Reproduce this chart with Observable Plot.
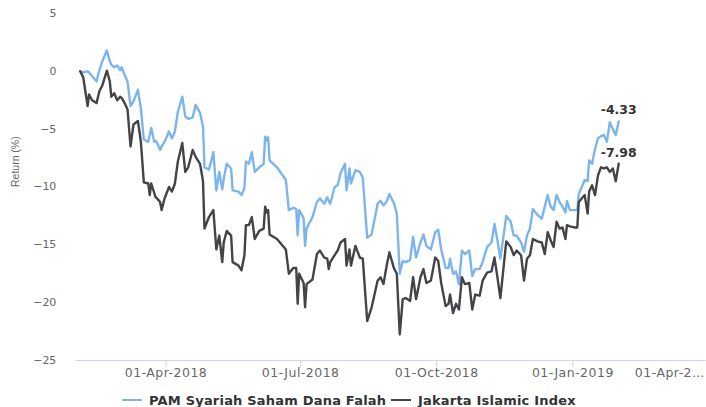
<!DOCTYPE html>
<html><head><meta charset="utf-8">
<script src="https://cdn.jsdelivr.net/npm/d3@7"></script>
<script src="https://cdn.jsdelivr.net/npm/@observablehq/plot@0.6"></script>
<style>
html,body{margin:0;padding:0;background:#fff;overflow:hidden;}
#wrap{width:706px;height:407px;overflow:hidden;position:relative;font-family:"DejaVu Sans",sans-serif;}
#chart svg{display:block;}
#legend{position:absolute;top:385px;left:0;width:706px;height:30px;font:bold 13px "DejaVu Sans",sans-serif;color:#333;letter-spacing:0.2px;}
.item{position:absolute;top:0;height:30px;display:flex;align-items:center;white-space:nowrap;}
.sw{display:inline-block;width:20px;height:2px;margin-right:7px;}
</style></head>
<body><div id="wrap"><div id="chart"></div><div id="legend"></div></div>
<script>
const dates = [
"2018-02-02","2018-02-04","2018-02-07","2018-02-08","2018-02-10","2018-02-13","2018-02-15","2018-02-17","2018-02-20","2018-02-22",
"2018-02-23","2018-02-25","2018-02-27","2018-03-01","2018-03-02","2018-03-04","2018-03-06","2018-03-08","2018-03-10","2018-03-13",
"2018-03-15","2018-03-17","2018-03-20","2018-03-21","2018-03-22","2018-03-24","2018-03-25","2018-03-26","2018-03-28","2018-03-29",
"2018-03-31","2018-04-03","2018-04-05","2018-04-07","2018-04-09","2018-04-12","2018-04-14","2018-04-16","2018-04-19","2018-04-21",
"2018-04-24","2018-04-26","2018-04-27","2018-04-30","2018-05-03","2018-05-05","2018-05-07","2018-05-09","2018-05-10","2018-05-12",
"2018-05-15","2018-05-16","2018-05-20","2018-05-22","2018-05-24","2018-05-25","2018-05-27","2018-05-29","2018-05-31","2018-06-03",
"2018-06-06","2018-06-07","2018-06-08","2018-06-09","2018-06-10","2018-06-15","2018-06-21","2018-06-23","2018-06-26","2018-06-28",
"2018-06-29","2018-06-30","2018-07-03","2018-07-04","2018-07-05","2018-07-09","2018-07-12","2018-07-14","2018-07-17","2018-07-19",
"2018-07-20","2018-07-21","2018-07-24","2018-07-26","2018-07-28","2018-07-31","2018-08-01","2018-08-03","2018-08-04","2018-08-07",
"2018-08-10","2018-08-12","2018-08-15","2018-08-18","2018-08-22","2018-08-24","2018-08-26","2018-08-28","2018-08-30","2018-09-02",
"2018-09-04","2018-09-06","2018-09-08","2018-09-10","2018-09-13","2018-09-15","2018-09-17","2018-09-20","2018-09-22","2018-09-24",
"2018-09-27","2018-09-30","2018-10-02","2018-10-04","2018-10-07","2018-10-09","2018-10-10","2018-10-12","2018-10-14","2018-10-16",
"2018-10-18","2018-10-20","2018-10-23","2018-10-25","2018-10-27","2018-10-30","2018-11-01","2018-11-04","2018-11-07","2018-11-09",
"2018-11-11","2018-11-13","2018-11-17","2018-11-20","2018-11-22","2018-11-24","2018-11-27","2018-11-29","2018-12-01","2018-12-03",
"2018-12-05","2018-12-08","2018-12-11","2018-12-13","2018-12-15","2018-12-17","2018-12-19","2018-12-21","2018-12-23","2018-12-25",
"2018-12-27","2018-12-28","2018-12-30","2019-01-02","2019-01-04","2019-01-05","2019-01-07","2019-01-09","2019-01-11","2019-01-12",
"2019-01-14","2019-01-16","2019-01-18","2019-01-20","2019-01-22","2019-01-24","2019-01-26","2019-01-28","2019-01-30","2019-02-01"
];
const fundReturn = [
0,-0.1,0.0,-0.1,-0.4,-0.87,0.1,0.9,1.8,0.87,
0.58,0.35,0.5,0.1,0.35,-0.3,-0.9,-3.0,-2.6,-1.6,
-3.2,-5.9,-6.1,-5.5,-4.9,-6.1,-6.0,-6.2,-6.8,-6.5,
-6.1,-5.2,-5.8,-5.2,-3.5,-2.2,-3.9,-4.1,-4.0,-2.9,
-3.6,-4.8,-8.3,-8.5,-7.0,-10.3,-8.7,-10.2,-9.3,-8.0,
-8.4,-10.3,-10.4,-10.7,-10.1,-7.8,-8.0,-7.0,-8.7,-8.3,
-8.0,-5.65,-6.0,-5.7,-7.7,-8.3,-9.4,-12.0,-11.8,-11.9,
-14.2,-12.0,-12.7,-15.1,-13.6,-12.6,-11.3,-11.0,-11.45,-10.9,
-11.2,-11.45,-10.0,-9.85,-8.8,-8.0,-10.3,-8.4,-9.7,-8.55,
-8.7,-9.2,-14.4,-14.1,-11.45,-11.2,-11.6,-11.3,-10.6,-11.4,
-12.3,-17.5,-16.4,-16.5,-16.3,-14.3,-16.1,-14.8,-14.1,-15.1,
-15.4,-13.9,-13.7,-15.4,-17.0,-17.0,-16.2,-17.5,-17.3,-18.4,
-15.5,-15.8,-15.5,-17.7,-17.1,-17.1,-16.5,-15.2,-14.8,-13.2,
-14.6,-16.2,-12.5,-13.0,-14.2,-14.2,-14.8,-15.6,-14.2,-13.6,
-11.9,-12.4,-12.75,-11.7,-10.7,-11.7,-12.0,-10.7,-11.3,-11.7,
-12.2,-11.2,-12.0,-12.0,-12.0,-10.6,-10.0,-9.4,-9.5,-7.7,
-8.0,-6.7,-5.8,-5.6,-5.5,-6.1,-4.4,-5.0,-5.5,-4.33
];
const indexReturn = [
0,-0.5,-3.0,-2.0,-2.5,-2.75,-1.7,-1.2,0.06,-0.87,
-2.2,-1.9,-2.5,-2.2,-2.3,-2.75,-3.3,-6.5,-4.6,-4.3,
-6.1,-9.6,-9.7,-10.7,-9.7,-10.5,-10.9,-11.0,-11.3,-12.0,
-11.0,-10.0,-10.4,-9.7,-7.8,-6.2,-8.7,-8.3,-6.8,-7.4,
-8.0,-9.5,-13.6,-12.6,-12.0,-15.4,-14.2,-16.5,-14.8,-13.8,
-14.2,-16.5,-16.8,-17.2,-15.9,-13.3,-13.3,-12.6,-14.5,-13.8,
-13.6,-11.7,-12.2,-12.0,-14.1,-14.5,-15.4,-17.5,-17.0,-17.0,
-20.1,-17.5,-18.3,-20.4,-18.4,-18.0,-15.8,-15.5,-16.1,-16.2,
-17.1,-16.5,-15.9,-15.5,-14.8,-14.5,-16.8,-15.4,-16.8,-15.1,
-16.1,-16.2,-21.6,-20.4,-18.1,-17.8,-18.4,-16.9,-15.65,-17.0,
-17.5,-22.75,-19.7,-19.6,-19.85,-17.8,-19.7,-17.8,-17.1,-18.3,
-18.1,-16.1,-16.4,-18.3,-20.3,-20.1,-19.3,-20.9,-20.1,-20.6,
-17.8,-18.4,-18.3,-20.6,-19.3,-19.4,-18.1,-17.4,-17.3,-16.1,
-17.8,-19.6,-14.7,-15.2,-15.9,-15.5,-15.9,-18.1,-16.2,-15.9,
-14.5,-14.7,-14.8,-15.8,-13.9,-14.6,-15.2,-13.0,-13.6,-13.5,
-14.5,-13.3,-13.4,-13.5,-13.5,-11.3,-11.0,-10.7,-12.3,-10.4,
-9.85,-10.7,-9.0,-8.3,-8.4,-8.3,-8.7,-8.4,-9.5,-7.98
];
const seriesNames = ["PAM Syariah Saham Dana Falah", "Jakarta Islamic Index"];
const seriesColors = ["#7cb5ec", "#434348"];
const endLabels = ["-4.33", "-7.98"];
const yTicks = [5, 0, -5, -10, -15, -20, -25];
const yLabel = "Return (%)";
const xTickDates = ["2018-04-01", "2018-07-01", "2018-10-01", "2019-01-01"];
const xTickLabels = ["01-Apr-2018", "01-Jul-2018", "01-Oct-2018", "01-Jan-2019"];
const edgeTickDates = ["2019-04-01"];
const edgeTickLabels = ["01-Apr-2\u2026"];
const xDomain = ["2018-01-30T08:10Z", "2019-04-01T08:05Z"];

const allSeries = [fundReturn, indexReturn];
const rows = [];
allSeries.forEach((vals, s) => {
  vals.forEach((v, i) => rows.push({date: new Date(dates[i]), value: v, series: seriesNames[s]}));
});
const endRows = allSeries.map((vals, s) => ({
  date: new Date(dates[dates.length - 1]), value: vals[vals.length - 1], label: endLabels[s]
}));
const minus = d => String(d).replace("-", "\u2212");

const chart = Plot.plot({
  width: 708, height: 385,
  marginLeft: 76, marginRight: 0, marginTop: 13, marginBottom: 24,
  style: {fontFamily: '"DejaVu Sans", sans-serif', background: "#fff", color: "#666"},
  x: {type: "utc", domain: xDomain.map(d => new Date(d))},
  y: {domain: [-25, 5]},
  color: {domain: seriesNames, range: seriesColors},
  marks: [
    Plot.ruleY([-25], {stroke: "#ccd6eb", strokeWidth: 1}),
    Plot.axisX({ticks: xTickDates.map(d => new Date(d)),
      tickFormat: d => xTickLabels[xTickDates.findIndex(t => +new Date(t) === +d)],
      tickSize: 7, tickPadding: 1, stroke: "#ccd6eb", fill: "#666", fontSize: 12.5, label: null}),
    Plot.axisX({ticks: edgeTickDates.map(d => new Date(d)),
      tickFormat: d => edgeTickLabels[edgeTickDates.findIndex(t => +new Date(t) === +d)],
      tickSize: 0, tickPadding: 8, textAnchor: "end", dx: -1, fill: "#666", fontSize: 12.5, label: null}),
    Plot.axisY({ticks: yTicks, tickSize: 0, tickPadding: 20, fontSize: 11, fill: "#666",
      tickFormat: minus, label: null}),
    Plot.text([yLabel], {frameAnchor: "left", text: d => d, rotate: -90, dx: -61,
      fill: "#666", fontSize: 10.5, fontFamily: "Liberation Sans"}),
    Plot.lineY(rows, {x: "date", y: "value", stroke: "series", z: "series", strokeWidth: 2.4}),
    Plot.text(endRows, {x: "date", y: "value", text: "label", dy: -11, fontWeight: "bold",
      fontSize: 12.5, fill: "#333", stroke: "white", strokeWidth: 2, ariaLabel: "endlabel"})
  ]
});
d3.select(chart).selectAll('g[aria-label="x-axis tick label"] text').style("letter-spacing", "0.5px");
d3.select(chart).selectAll('g[aria-label="endlabel"] text').style("letter-spacing", "0.8px");
document.getElementById("chart").appendChild(chart);

const legend = document.getElementById("legend");
const legendLefts = [122, 391];
seriesNames.forEach((name, i) => {
  const item = document.createElement("div");
  item.className = "item";
  item.style.left = legendLefts[i] + "px";
  const sw = document.createElement("span");
  sw.className = "sw";
  sw.style.background = seriesColors[i];
  const label = document.createElement("span");
  label.textContent = name;
  item.appendChild(sw); item.appendChild(label);
  legend.appendChild(item);
});
</script>
</body></html>
